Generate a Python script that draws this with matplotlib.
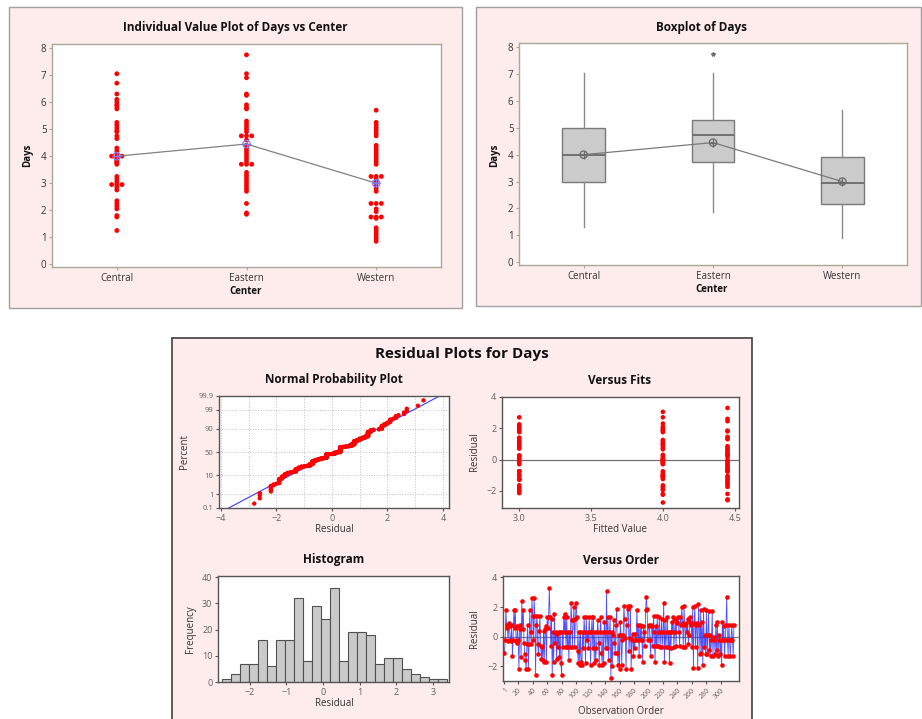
import numpy as np
import matplotlib
matplotlib.use('Agg')
import matplotlib.pyplot as plt
from matplotlib.patches import Rectangle
from statistics import NormalDist

plt.rcParams['font.family'] = ['Open Sans', 'DejaVu Sans']

# ---------------- data ----------------
centers = ['Central', 'Eastern', 'Western']
central_days = [7.05, 6.7, 6.3, 6.1, 6.0, 5.9, 5.85, 5.75, 5.25, 5.15, 5.05, 4.95, 4.9,
                4.75, 4.65, 4.3, 4.2, 4.1, 4.0, 4.0, 4.0, 3.95, 3.9, 3.85, 3.8, 3.75, 3.7,
                3.25, 3.15, 3.05, 2.95, 2.95, 2.95, 2.85, 2.75, 2.35, 2.25, 2.15, 2.05,
                1.8, 1.75, 1.25]
eastern_days = [7.75, 7.05, 6.9, 6.3, 6.25, 5.9, 5.8, 5.75, 5.3, 5.2, 5.1, 5.0, 4.9,
                4.75, 4.75, 4.75, 4.6, 4.4, 4.3, 4.2, 4.1, 4.0, 3.9, 3.8, 3.7, 3.7, 3.7,
                3.4, 3.3, 3.2, 3.1, 3.0, 2.9, 2.8, 2.7, 2.25, 1.9, 1.85]
western_days = [5.7, 5.25, 5.15, 5.05, 4.95, 4.85, 4.75, 4.4, 4.3, 4.2, 4.1, 4.0, 3.9, 3.8,
                3.7, 3.25, 3.25, 3.25, 3.15, 3.05, 2.9, 2.8, 2.7, 2.25, 2.25, 2.25, 2.05, 1.95,
                1.75, 1.75, 1.75, 1.7, 1.35, 1.25, 1.15, 1.05, 0.95, 0.85]
center_means = [4.0, 4.45, 3.0]

box_q1 = [3.0, 3.72, 2.15]
box_med = [4.0, 4.72, 2.95]
box_q3 = [5.0, 5.27, 3.9]
whisk_lo = [1.3, 1.88, 0.9]
whisk_hi = [7.05, 7.05, 5.65]
box_outliers = [[], [7.75], []]

hist_counts = [1, 3, 7, 7, 16, 6, 16, 16, 32, 8, 29, 24, 36, 8, 19, 19, 18, 7, 9, 9,
               5, 3, 2, 1, 1]
hist_first_edge = -2.76
hist_bin_width = 0.245

order_residuals = [
    -1.1, -0.2, 1.8, 0.8, 0.6, -0.3, 0.9, 0.7, -0.2, -0.3, 0.8, -1.3, -0.2, 1.8, 0.6, 1.8, -0.3, -0.4, 0.7, -0.2,
    -2.2, 0.5, 0.8, -1.4, 2.4, 0.5, 1.8, -0.4, -1.2, -1.6, -2.2, -0.5, 0.8, -2.2, -0.5, 1.8, 0.3, -0.5, 2.6, 1.4,
    -0.2, 2.6, 1.4, -2.6, 0.8, 1.4, -0.5, -1.2, 0.4, 1.4, -0.6, -1.5, -0.7, -1.6, 0.4, -1.7, 0.5, 0.7, -1.7, 1.3,
    0.6, 1.3, 3.3, 1.3, -0.6, 1.2, -2.6, 0.3, -1.7, 1.5, -0.4, 0.3, -1.5, 0.2, -0.7, 0.3, -1.4, 0.3, -1.8, -2.6,
    0.3, -0.7, 1.3, 0.3, 1.5, -0.7, 1.3, -0.7, 0.3, -1.6, 0.3, -0.7, 2.3, 1.1, -0.7, 1.1, 2.0, -0.7, 1.2, 2.3,
    1.3, -1.0, -1.8, 0.3, -1.9, 0.3, -1.7, -1.9, 0.3, -0.8, 1.3, 0.3, -1.8, 1.3, -0.2, 0.3, -0.8, 1.3, 0.3, -1.9,
    0.3, 1.3, -0.8, 1.3, -1.8, 0.3, -1.6, -0.8, 0.3, 1.1, -0.4, -1.9, 0.3, 1.3, -1.1, -1.9, 0.3, -1.8, 1.0, 0.3,
    -0.8, 3.1, -0.8, 1.3, -1.6, 0.3, 1.3, -2.8, 0.3, -2.0, 0.1, 1.1, -0.4, -1.1, 0.8, 1.9, -1.1, -1.9, 0.1, -2.2,
    1.0, 0.1, -1.9, -0.2, 0.1, 2.1, 1.2, -0.1, -2.2, 0.8, 1.9, 2.1, -1.0, -0.1, 2.1, -2.2, -0.2, 0.2, -1.3, -0.2,
    -0.8, 0.2, -0.2, 1.8, -0.2, 0.8, -1.3, 0.8, -0.2, 0.7, -0.2, -1.7, 0.7, 0.3, -0.6, 1.8, 2.7, 1.9, -0.2, 0.8,
    0.7, -0.2, -1.3, 0.8, 0.7, -0.6, 1.4, 0.3, -1.7, 0.7, -0.6, 1.4, -0.6, 0.3, 1.3, -0.7, 0.3, 1.2, -0.7, 0.3,
    2.3, -1.7, 1.1, -0.7, 0.3, 1.3, -0.7, 0.3, -1.8, 0.3, -0.8, 1.0, 0.3, 1.3, -0.7, 0.3, 1.2, -0.6, 0.9, 1.0,
    1.3, 0.3, -0.6, 1.3, 0.8, 2.0, 0.9, -0.7, 2.1, 0.8, -0.7, 0.9, 0.3, 1.2, -0.5, 0.1, 1.0, 1.3, 0.8, -0.7,
    2.0, -2.1, 0.9, 2.1, -0.7, 0.8, 0.9, -2.1, 2.2, 0.8, -1.2, 1.8, -1.1, 1.0, -1.9, 1.9, -0.7, 0.1, -1.2, 1.8,
    -1.2, 0.1, 1.7, -0.9, 0.1, -1.3, -0.2, 1.7, -1.3, 0.0, -0.2, -1.2, 0.8, -0.9, 1.0, -1.3, -0.2, 0.1, -1.2, -0.2,
    -1.9, 1.0, -0.2, 0.7, -1.3, -0.2, 0.8, 2.7, -0.2, -1.3, 0.8, -0.2, -1.3, -0.2, 0.8, -0.2, -1.3, 0.8,
]
npp_pct_ticks = [0.1, 1, 10, 50, 90, 99, 99.9]
order_ticks = [1, 20, 40, 60, 80, 100, 120, 140, 160, 180, 200, 220, 240, 260, 280, 300]

# ---------------- helpers ----------------
W, H = 922, 719
fig = plt.figure(figsize=(W / 100, H / 100), dpi=100)
PINK = '#fdeceb'
RED = '#ff0000'


def panel(x0, y0, x1, y1, ec, lw):
    fig.add_artist(Rectangle((x0 / W, 1 - y1 / H), (x1 - x0) / W, (y1 - y0) / H,
                             transform=fig.transFigure, fc=PINK, ec=ec, lw=lw, zorder=0))


def axes_px(x0, y0, x1, y1):
    return fig.add_axes([x0 / W, 1 - y1 / H, (x1 - x0) / W, (y1 - y0) / H])


def text_px(x, y, s, **kw):
    ha = kw.pop('ha', 'center')
    va = kw.pop('va', 'center')
    fig.text(x / W, 1 - y / H, s, ha=ha, va=va, **kw)


def style(ax, frame, labelc, fs):
    for sp in ax.spines.values():
        sp.set_color(frame)
        sp.set_linewidth(1.0)
    ax.tick_params(colors=frame, labelcolor=labelc, labelsize=fs, length=2.5,
                   width=0.8, pad=1.5)


def spread(xc, vals, step):
    xs, ys = [], []
    uniq, cnt = np.unique(vals, return_counts=True)
    for v, c in zip(uniq, cnt):
        for j in range(c):
            xs.append(xc + (j - (c - 1) / 2) * step)
            ys.append(v)
    return xs, ys


groups = [central_days, eastern_days, western_days]
TITLE = dict(fontsize=8.5, fontweight='bold', color='#111111')
LAB = dict(fontsize=7, color='#333333')

# ---------------- panels ----------------
panel(9, 7, 462, 308, '#a0a0a0', 1.0)
panel(476, 7, 921, 306, '#a0a0a0', 1.0)
panel(172, 338, 752, 722, '#404040', 1.2)

TOPFRAME = '#a8a898'

# ---------------- Individual value plot ----------------
ax1 = axes_px(52, 44, 441, 267)
pos = [1, 2, 3]
for i, vals in enumerate(groups):
    xs, ys = spread(pos[i], vals, 0.04)
    ax1.scatter(xs, ys, s=12, c=RED, edgecolors='none', zorder=3)
ax1.plot(pos, center_means, color='#808080', lw=0.9, zorder=4)
ax1.scatter(pos, center_means, s=28, facecolors='none', edgecolors='#7a7aff', lw=0.9, zorder=5)
ax1.scatter(pos, center_means, s=28, marker='+', c='#7a7aff', lw=0.9, zorder=5)
ax1.set_xlim(0.5, 3.5)
ax1.set_ylim(-0.1, 8.15)
ax1.set_xticks(pos)
ax1.set_xticklabels(centers)
ax1.set_yticks(range(0, 9))
style(ax1, TOPFRAME, '#333333', 7)
text_px(235, 28, 'Individual Value Plot of Days vs Center', **TITLE)
text_px(28, 155, 'Days', rotation=90, fontsize=7, fontweight='bold', color='#111111')
text_px(246, 291, 'Center', fontsize=7, fontweight='bold', color='#111111')

# ---------------- Boxplot ----------------
ax2 = axes_px(519, 43, 907, 265)
stats = []
for i in range(3):
    stats.append(dict(med=box_med[i], q1=box_q1[i], q3=box_q3[i], whislo=whisk_lo[i],
                      whishi=whisk_hi[i], fliers=box_outliers[i], mean=center_means[i]))
ax2.bxp(stats, positions=pos, widths=0.33, patch_artist=True, showcaps=False,
        boxprops=dict(facecolor='#cbcbcb', edgecolor='#7a7a7a', lw=1.0),
        whiskerprops=dict(color='#8a8a8a', lw=1.0),
        medianprops=dict(color='#6a6a6a', lw=1.3),
        flierprops=dict(marker='*', markersize=3, markerfacecolor='#707070',
                        markeredgecolor='#707070'))
ax2.plot(pos, center_means, color='#7a7a7a', lw=0.9, zorder=4)
ax2.scatter(pos, center_means, s=28, facecolors='none', edgecolors='#6a6a6a', lw=0.9, zorder=5)
ax2.scatter(pos, center_means, s=28, marker='+', c='#6a6a6a', lw=0.9, zorder=5)
ax2.set_xlim(0.5, 3.5)
ax2.set_ylim(-0.1, 8.15)
ax2.set_xticks(pos)
ax2.set_xticklabels(centers)
ax2.set_yticks(range(0, 9))
style(ax2, TOPFRAME, '#333333', 7)
text_px(701, 27, 'Boxplot of Days', **TITLE)
text_px(495, 155, 'Days', rotation=90, fontsize=7, fontweight='bold', color='#111111')
text_px(712, 289, 'Center', fontsize=7, fontweight='bold', color='#111111')

# ---------------- Residual plots ----------------
text_px(462, 354, 'Residual Plots for Days', fontsize=11, fontweight='bold', color='#111111')
BOTFRAME = '#555555'
BOTLBL = '#606060'
nd = NormalDist()

# Normal probability plot
ax3 = axes_px(219, 396, 449, 508)
res = np.sort(np.array(order_residuals))
n = len(res)
pp = (np.arange(1, n + 1) - 0.3) / (n + 0.4)
zz = np.array([nd.inv_cdf(p) for p in pp])
mu, sd = res.mean(), res.std(ddof=1)
zl = np.array([-3.3, 3.3])
ax3.plot(mu + sd * zl, zl, color='#3b3bff', lw=0.8, zorder=2)
ax3.scatter(res, zz, s=10, c=RED, edgecolors='none', zorder=3)
ztick = [nd.inv_cdf(p / 100) for p in npp_pct_ticks]
ax3.set_yticks(ztick)
ax3.set_yticklabels([('%g' % p) for p in npp_pct_ticks])
ax3.set_ylim(ztick[0], ztick[-1])
ax3.set_xlim(-4.07, 4.22)
ax3.set_xticks([-4, -2, 0, 2, 4])
ax3.set_xticks([-3, -1, 1, 3], minor=True)
ax3.grid(True, which='both', ls=':', color='#c0c0c0', lw=0.7)
style(ax3, BOTFRAME, BOTLBL, 6.5)
ax3.tick_params(axis='y', labelsize=5.5)
ax3.tick_params(which='minor', length=0)
text_px(334, 380, 'Normal Probability Plot', **TITLE)
text_px(334, 530, 'Residual', **LAB)
text_px(185, 452, 'Percent', rotation=90, **LAB)

# Versus fits
ax4 = axes_px(502, 397, 739, 508)
for i, vals in enumerate(groups):
    r = np.array(vals) - center_means[i]
    ax4.scatter(np.full(len(r), center_means[i]), r, s=11, c=RED, edgecolors='none', zorder=3)
ax4.axhline(0, color='#707070', lw=0.9, zorder=2)
ax4.set_xlim(2.88, 4.53)
ax4.set_ylim(-3.1, 4.0)
ax4.set_xticks([3.0, 3.5, 4.0, 4.5])
ax4.set_xticklabels(['3.0', '3.5', '4.0', '4.5'])
ax4.set_yticks([-2, 0, 2, 4])
style(ax4, BOTFRAME, BOTLBL, 6.5)
text_px(620, 380, 'Versus Fits', **TITLE)
text_px(620, 530, 'Fitted Value', **LAB)
text_px(475, 452, 'Residual', rotation=90, **LAB)

# Histogram
ax5 = axes_px(218, 576, 449, 682)
edges = hist_first_edge + hist_bin_width * np.arange(len(hist_counts))
ax5.bar(edges, hist_counts, width=hist_bin_width, align='edge', color='#cacaca',
        edgecolor='#505050', lw=0.8)
ax5.set_xlim(-2.86, 3.43)
ax5.set_ylim(0, 40.5)
ax5.set_xticks([-2, -1, 0, 1, 2, 3])
ax5.set_yticks([0, 10, 20, 30, 40])
style(ax5, BOTFRAME, BOTLBL, 6.5)
text_px(334, 560, 'Histogram', **TITLE)
text_px(334, 704, 'Residual', **LAB)
text_px(190, 629, 'Frequency', rotation=90, **LAB)

# Versus order
ax6 = axes_px(503, 576, 739, 681)
obs = np.arange(1, len(order_residuals) + 1)
ax6.plot(obs, order_residuals, color='#3030ff', lw=0.6, alpha=0.85, zorder=2)
ax6.plot(obs, order_residuals, ls='none', marker='o', ms=3.3, mfc=RED, mec='none', zorder=3)
ax6.axhline(0, color='#808080', lw=0.9, zorder=1)
ax6.set_xlim(-1, 325)
ax6.set_ylim(-3.0, 4.1)
ax6.set_xticks(order_ticks)
ax6.set_xticklabels([str(t) for t in order_ticks], rotation=45, ha='right', rotation_mode='anchor')
ax6.set_yticks([-2, 0, 2, 4])
style(ax6, BOTFRAME, BOTLBL, 6.5)
ax6.tick_params(axis='x', labelsize=5)
text_px(621, 560, 'Versus Order', **TITLE)
text_px(621, 711, 'Observation Order', **LAB)
text_px(475, 629, 'Residual', rotation=90, **LAB)

fig.savefig('out.png', dpi=100, facecolor='white')
